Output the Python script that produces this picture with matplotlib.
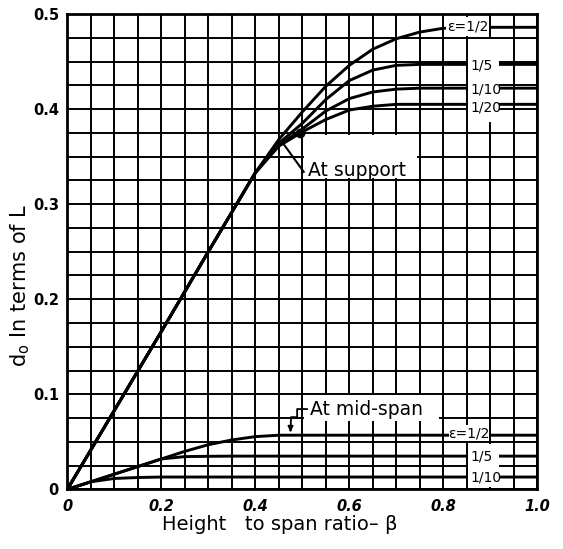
import numpy as np
import matplotlib
matplotlib.use("Agg")
import matplotlib.pyplot as plt
from matplotlib.patches import Rectangle

# ---------------- data ----------------
# Depth d0 at support, for eccentricity ratios e
sup_x = [0.0, 0.1, 0.2, 0.3, 0.4, 0.45, 0.5, 0.55, 0.6, 0.65, 0.7, 0.75, 0.8, 0.9, 1.0]
sup_e_half = [0.0, 0.083, 0.166, 0.25, 0.333, 0.368, 0.397, 0.424, 0.446, 0.463, 0.474, 0.481, 0.485, 0.486, 0.486]
sup_e_fifth = [0.0, 0.083, 0.166, 0.25, 0.333, 0.364, 0.385, 0.41, 0.43, 0.441, 0.446, 0.447, 0.447, 0.447, 0.447]
sup_e_tenth = [0.0, 0.083, 0.166, 0.25, 0.333, 0.362, 0.379, 0.398, 0.411, 0.418, 0.421, 0.422, 0.422, 0.422, 0.422]
sup_e_twentieth = [0.0, 0.083, 0.166, 0.25, 0.333, 0.361, 0.376, 0.389, 0.399, 0.403, 0.405, 0.405, 0.405, 0.405, 0.405]

# Depth d0 at mid-span
mid_x = [0.0, 0.05, 0.1, 0.15, 0.2, 0.25, 0.3, 0.35, 0.4, 0.45, 0.5, 0.7, 1.0]
mid_e_half = [0.0, 0.008, 0.016, 0.024, 0.032, 0.040, 0.047, 0.052, 0.0555, 0.057, 0.057, 0.057, 0.057]
mid_e_fifth = [0.0, 0.008, 0.016, 0.024, 0.032, 0.0345, 0.0348, 0.035, 0.035, 0.035, 0.035, 0.035, 0.035]
mid_e_tenth = [0.0, 0.008, 0.0115, 0.0125, 0.013, 0.013, 0.013, 0.013, 0.013, 0.013, 0.013, 0.013, 0.013]

x_ticks = [0.0, 0.2, 0.4, 0.6, 0.8, 1.0]
x_ticklabels = ["0", "0.2", "0.4", "0.6", "0.8", "1.0"]
y_ticks = [0.0, 0.1, 0.2, 0.3, 0.4, 0.5]
y_ticklabels = ["0", "0.1", "0.2", "0.3", "0.4", "0.5"]

# ---------------- figure ----------------
W, H = 563, 549
fig = plt.figure(figsize=(W / 100, H / 100), dpi=100)
fig.patch.set_facecolor("white")
ax = fig.add_axes([67.3 / W, 1 - 489.4 / H, 470 / W, 475.4 / H])
ax.set_xlim(0, 1)
ax.set_ylim(0, 0.5)

ax.set_xticks(x_ticks)
ax.set_xticklabels(x_ticklabels, fontsize=10.5, fontweight="bold", style="italic")
ax.set_yticks(y_ticks)
ax.set_yticklabels(y_ticklabels, fontsize=10.5, fontweight="bold")
ax.set_xticks(np.arange(0, 1.0001, 0.05), minor=True)
ax.set_yticks(np.arange(0, 0.5001, 0.025), minor=True)
ax.tick_params(which="both", length=0)
ax.tick_params(axis="x", pad=7)
ax.tick_params(axis="y", pad=6)
ax.grid(which="both", color="black", linewidth=1.4)
ax.set_axisbelow(True)
for s in ax.spines.values():
    s.set_linewidth(2.0)
    s.set_zorder(6)

lw = 2.1
for ys in (sup_e_half, sup_e_fifth, sup_e_tenth, sup_e_twentieth):
    ax.plot(sup_x, ys, color="black", lw=lw, zorder=2, solid_capstyle="round")
for ys in (mid_e_half, mid_e_fifth, mid_e_tenth):
    ax.plot(mid_x, ys, color="black", lw=lw, zorder=2, solid_capstyle="round")

# white label boxes that break the grid and curves
def wbox(x0, x1, y0, y1):
    ax.add_patch(Rectangle((x0, y0), x1 - x0, y1 - y0, facecolor="white",
                           edgecolor="none", zorder=3))

wbox(0.806, 0.898, 0.477, 0.4965)
wbox(0.853, 0.918, 0.386, 0.4735)
wbox(0.503, 0.745, 0.3275, 0.3725)
wbox(0.503, 0.79, 0.0715, 0.099)
wbox(0.812, 0.897, 0.051, 0.068)
wbox(0.853, 0.918, 0.003, 0.048)

tk = dict(color="black", zorder=4, va="center")
ax.text(0.852, 0.4865, "ε=1/2", ha="center", fontsize=10, **tk)
ax.text(0.858, 0.446, "1/5", ha="left", fontsize=10, **tk)
ax.text(0.858, 0.421, "1/10", ha="left", fontsize=10, **tk)
ax.text(0.858, 0.402, "1/20", ha="left", fontsize=10, **tk)

ax.text(0.512, 0.335, "At support", ha="left", fontsize=13.5, **tk)
ax.plot([0.503, 0.462], [0.334, 0.362], color="black", lw=1.5, zorder=4)
ax.plot([0.495], [0.375], marker="o", ms=6, color="black", zorder=4)

ax.text(0.516, 0.0845, "At mid-span", ha="left", fontsize=13.5, **tk)
ax.plot([0.51, 0.489, 0.489, 0.476, 0.475], [0.0845, 0.0845, 0.076, 0.076, 0.062],
        color="black", lw=1.3, zorder=4)
ax.annotate("", xy=(0.475, 0.0575), xytext=(0.475, 0.066),
            arrowprops=dict(arrowstyle="-|>", color="black", lw=1.2,
                            mutation_scale=8), zorder=4)

ax.text(0.855, 0.0585, "ε=1/2", ha="center", fontsize=10, **tk)
ax.text(0.858, 0.0345, "1/5", ha="left", fontsize=10, **tk)
ax.text(0.858, 0.0125, "1/10", ha="left", fontsize=10, **tk)

fig.text(20 / W, 1 - 285 / H, "d$_\\mathregular{o}$ In terms of L", rotation=90,
         ha="center", va="center", fontsize=15)
fig.text(280 / W, 1 - 524 / H, "Height   to span ratio– β", ha="center",
         va="center", fontsize=14)

fig.savefig("out.png", dpi=100, facecolor="white")
